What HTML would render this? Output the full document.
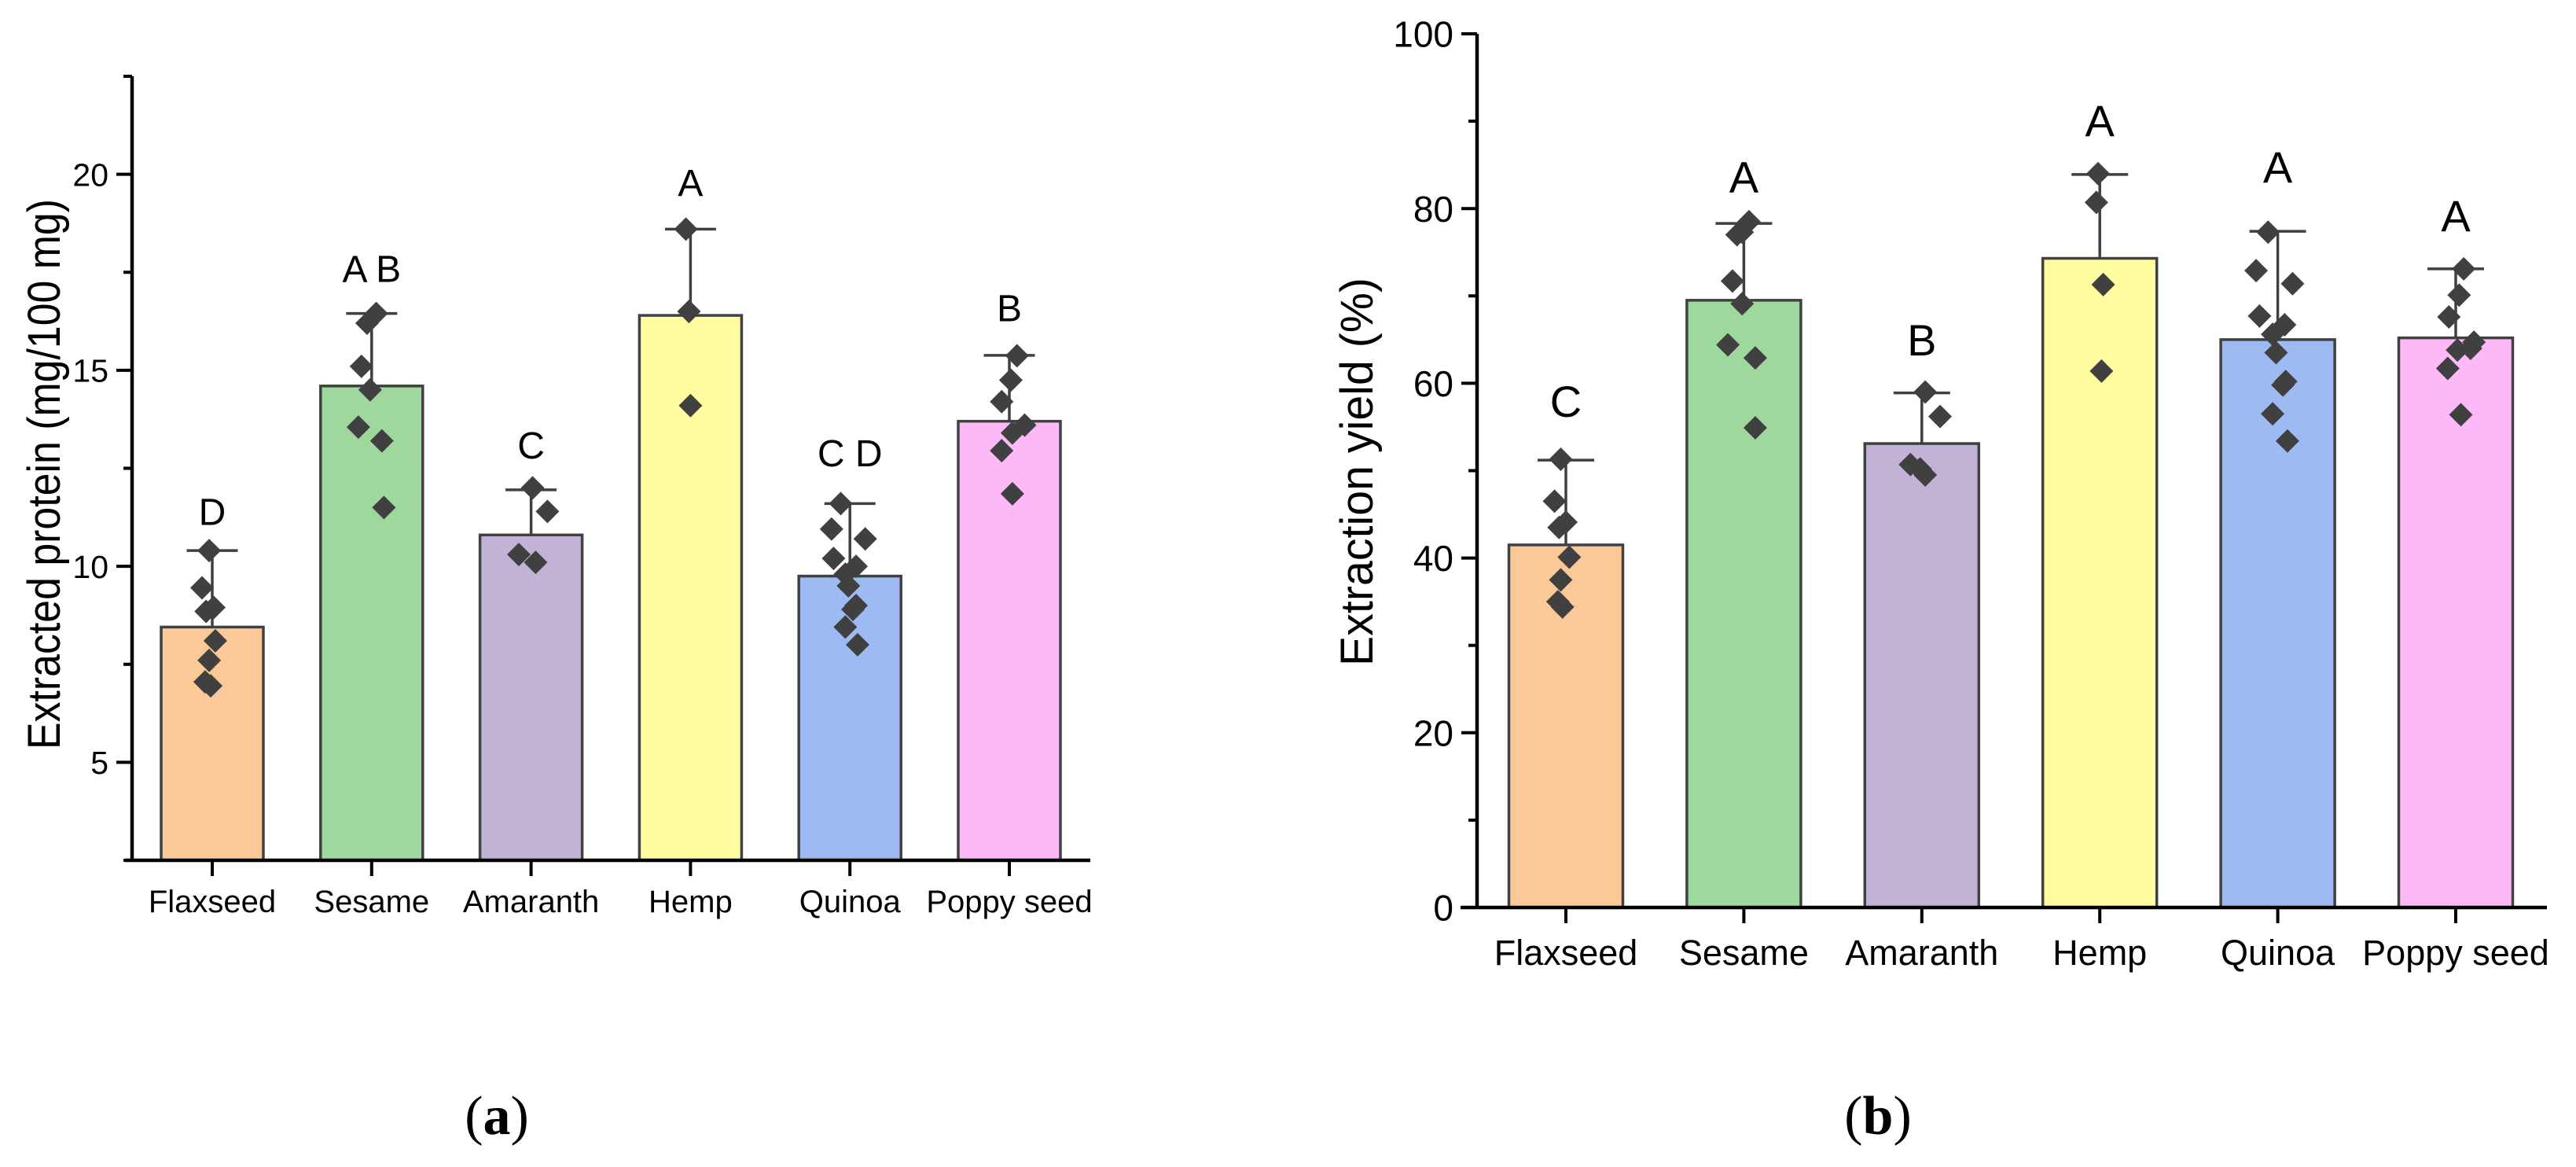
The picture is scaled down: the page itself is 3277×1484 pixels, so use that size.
<!DOCTYPE html>
<html><head><meta charset="utf-8"><style>
html,body{margin:0;padding:0;background:#fff;}
svg{display:block;font-family:"Liberation Sans",Arial,sans-serif;}
</style></head><body>
<svg id="fig" width="3277" height="1484" viewBox="0 0 3277 1484" xmlns="http://www.w3.org/2000/svg">
<g id="chartA"></g>
<g id="chartB"></g>
<text x="632" y="1442" text-anchor="middle" font-family="Liberation Serif, serif" font-size="70">(<tspan font-weight="bold">a</tspan>)</text>
<text x="2389" y="1442" text-anchor="middle" font-family="Liberation Serif, serif" font-size="70">(<tspan font-weight="bold">b</tspan>)</text>
</svg>
<script>
const categories = ["Flaxseed","Sesame","Amaranth","Hemp","Quinoa","Poppy seed"];
const colors = ["#FBC998","#9FD89C","#C2B2D6","#FFFD9F","#9DBBF2","#FDB9F7"];

// Chart A: Extracted protein (mg/100 mg)
const aMeans = [8.45, 14.6, 10.8, 16.4, 9.75, 13.7];
const aErrTops = [10.4, 16.45, 11.95, 18.6, 11.6, 15.38];
const aLetters = ["D","A B","C","A","C D","B"];
const aLetterVals = [11.4, 17.6, 13.1, 19.8, 12.9, 16.6];
const aPoints = [
  [10.4, 9.45, 8.95, 8.85, 8.1, 7.6, 7.05, 6.95],
  [16.45, 16.2, 15.1, 14.5, 13.55, 13.2, 11.5],
  [12.0, 11.4, 10.3, 10.1],
  [18.6, 16.5, 14.1],
  [11.6, 10.95, 10.7, 10.2, 10.0, 9.8, 9.5, 9.0, 8.9, 8.45, 8.0],
  [15.37, 14.75, 14.2, 13.4, 13.6, 12.95, 11.85]
];
const aJitter = [
  [-0.03,-0.1,0.015,-0.06,0.03,-0.03,-0.07,-0.015],
  [0.045,-0.045,-0.1,-0.015,-0.13,0.1,0.12],
  [0.015,0.16,-0.12,0.045],
  [-0.045,-0.015,0],
  [-0.09,-0.18,0.15,-0.16,0.06,-0.045,-0.015,0.06,0.03,-0.045,0.075],
  [0.075,0.015,-0.075,0.03,0.15,-0.075,0.03]
];
const aTicksMajor = [5, 10, 15, 20];
const aTickLabels = ["5","10","15","20"];
const aTicksMinor = [2.5, 7.5, 12.5, 17.5, 22.5];

// Chart B: Extraction yield (%)
const bMeans = [41.5, 69.5, 53.1, 74.3, 65.0, 65.2];
const bErrTops = [51.2, 78.3, 58.9, 83.9, 77.4, 73.1];
const bLetters = ["C","A","B","A","A","A"];
const bLetterVals = [58.0, 83.7, 65.0, 90.1, 84.8, 79.2];
const bPoints = [
  [51.3, 46.5, 44.1, 43.5, 40.1, 37.5, 35.0, 34.4],
  [78.5, 77.3, 77.0, 71.7, 69.1, 64.4, 62.9, 54.9],
  [59.0, 56.2, 50.7, 50.2, 49.5],
  [84.0, 80.7, 71.3, 61.4],
  [77.3, 72.9, 71.4, 67.7, 66.7, 65.6, 63.5, 60.2, 59.8, 56.5, 53.4],
  [73.1, 70.1, 67.6, 64.7, 63.8, 64.0, 61.7, 56.4]
];
const bJitter = [
  [-0.045,-0.1,0,-0.06,0.03,-0.045,-0.07,-0.03],
  [0.045,-0.015,-0.06,-0.1,-0.015,-0.14,0.1,0.1],
  [0.03,0.16,-0.1,-0.015,0.03],
  [-0.015,-0.03,0.03,0.015],
  [-0.085,-0.19,0.13,-0.16,0.06,-0.045,-0.015,0.07,0.045,-0.045,0.085],
  [0.07,0.03,-0.06,0.16,0.015,0.13,-0.07,0.045]
];
const bTicksMajor = [0, 20, 40, 60, 80, 100];
const bTickLabels = ["0","20","40","60","80","100"];
const bTicksMinor = [10, 30, 50, 70, 90];

const NS = "http://www.w3.org/2000/svg";
function mk(parent, tag, attrs, text) {
  const e = document.createElementNS(NS, tag);
  for (const k in attrs) e.setAttribute(k, attrs[k]);
  if (text !== undefined) e.textContent = text;
  parent.appendChild(e);
  return e;
}

function drawChart(g, cfg) {
  const y = v => cfg.y0 - (v - cfg.vmin) * (cfg.y0 - cfg.y1) / (cfg.vmax - cfg.vmin);
  const x = i => cfg.x0c + i * cfg.step;
  // bars
  categories.forEach((c, i) => {
    const cx = x(i);
    const r = mk(g, "rect", {x: cx - cfg.bw/2, y: y(cfg.means[i]), width: cfg.bw, height: cfg.y0 - y(cfg.means[i]), fill: colors[i], stroke: "#404040", "stroke-width": 3.5});
    
    
    const l = mk(g, "line", {x1: cx, x2: cx, y1: y(cfg.means[i]), y2: y(cfg.errs[i]), stroke: "#404040", "stroke-width": 3.5});
    
    
    const cap = mk(g, "line", {x1: cx - cfg.cap/2, x2: cx + cfg.cap/2, y1: y(cfg.errs[i]), y2: y(cfg.errs[i]), stroke: "#404040", "stroke-width": 3.5});
    
    
    cfg.points[i].forEach((v, j) => {
      const px = cx + cfg.jit[i][j] * cfg.bw, py = y(v), d = cfg.ds;
      const p = mk(g, "polygon", {points: `${px},${py-d} ${px+d},${py} ${px},${py+d} ${px-d},${py}`, fill: "#404040"});
      
      
    });
    const t = mk(g, "text", {x: cx, y: y(cfg.letterVals[i]) + 0.36*cfg.lfs, "text-anchor": "middle", "font-size": cfg.lfs}, cfg.letters[i]);
    
    
    const tk = mk(g, "line", {x1: cx, x2: cx, y1: cfg.y0, y2: cfg.y0 + 20, stroke: "#000", "stroke-width": 4});
    
    
    const cl = mk(g, "text", {x: cx, y: cfg.labY, "text-anchor": "middle", "font-size": cfg.cfs}, c);
    
    
  });
  // y ticks
  cfg.major.forEach((v, k) => {
    const t = mk(g, "line", {x1: cfg.x0 - 20, x2: cfg.x0, y1: y(v), y2: y(v), stroke: "#000", "stroke-width": 4});
    
    
    const tl = mk(g, "text", {x: cfg.x0 - 30, y: y(v) + 0.36*cfg.tfs, "text-anchor": "end", "font-size": cfg.tfs}, cfg.majorLabels[k]);
    
    
  });
  cfg.minor.forEach(v => {
    const t = mk(g, "line", {x1: cfg.x0 - 11, x2: cfg.x0, y1: y(v), y2: y(v), stroke: "#000", "stroke-width": 4});
    
    
  });
  // axes
  const ya = mk(g, "line", {x1: cfg.x0, x2: cfg.x0, y1: y(cfg.vmax), y2: cfg.y0, stroke: "#000", "stroke-width": 4.5});
  
  
  const xa = mk(g, "line", {x1: cfg.xaStart, x2: cfg.x1, y1: cfg.y0, y2: cfg.y0, stroke: "#000", "stroke-width": 4.5});
  
  
  const tt = mk(g, "text", {x: 0, y: 0, "text-anchor": "middle", "font-size": cfg.titleFs, textLength: cfg.titleLen, lengthAdjust: "spacingAndGlyphs", transform: `translate(${cfg.titleX},${cfg.titleY}) rotate(-90)`}, cfg.title);
  
  
}

drawChart(document.getElementById("chartA"), {
  vmin: 2.5, vmax: 22.5, y0: 1094, y1: 97, x0: 168, x1: 1387, xaStart: 159,
  x0c: 270, step: 202.8, bw: 130, cap: 65, ds: 15,
  means: aMeans, errs: aErrTops, points: aPoints, jit: aJitter,
  letters: aLetters, letterVals: aLetterVals, lfs: 48,
  major: aTicksMajor, majorLabels: aTickLabels, minor: aTicksMinor, tfs: 41,
  labY: 1160, cfs: 40,
  title: "Extracted protein (mg/100 mg)", titleX: 76, titleY: 603, titleFs: 58, titleLen: 700
});
drawChart(document.getElementById("chartB"), {
  vmin: 0, vmax: 100, y0: 1154, y1: 43, x0: 1879, x1: 3240, xaStart: 1858,
  x0c: 1992, step: 226.4, bw: 145, cap: 72, ds: 15,
  means: bMeans, errs: bErrTops, points: bPoints, jit: bJitter,
  letters: bLetters, letterVals: bLetterVals, lfs: 56,
  major: bTicksMajor, majorLabels: bTickLabels, minor: bTicksMinor, tfs: 46,
  labY: 1227, cfs: 45,
  title: "Extraction yield (%)", titleX: 1746, titleY: 600, titleFs: 58, titleLen: 494
});
</script>
</body></html>
